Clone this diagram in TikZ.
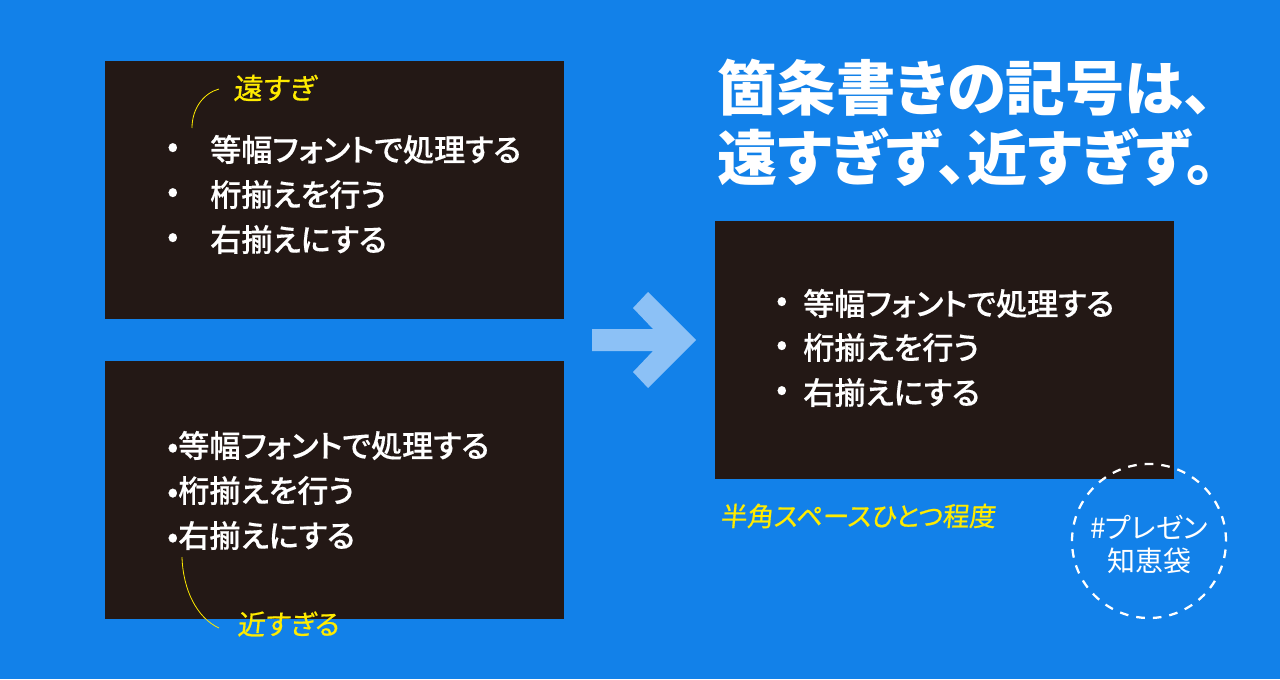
\documentclass[tikz,border=0pt]{standalone}
\usepackage{fontspec}
\setmainfont[RawFeature={+palt}]{Noto Sans CJK JP}
\newfontfamily\listfont[RawFeature={+palt},UprightFont={* Medium},FakeBold=0.35]{Noto Sans CJK JP}
\newfontfamily\handfont[RawFeature={+palt},FakeSlant=0.1,FakeBold=0.6]{Noto Sans CJK JP}
\definecolor{bluebg}{HTML}{1281E9}
\definecolor{panelc}{HTML}{231815}
\definecolor{arrowc}{HTML}{8CC1F6}
\definecolor{handc}{HTML}{FFEB00}
\newcommand{\fs}[1]{\fontsize{\dimexpr#1pt*3/4\relax}{\dimexpr#1pt*9/10\relax}\selectfont}
\tikzset{
  panelbox/.style={fill=panelc,draw=none,minimum width=344.25pt,minimum height=193.5pt,inner sep=0pt,anchor=north west},
  listline/.style={text=white,inner sep=0pt,anchor=west,font=\listfont\fs{31.1}},
  titleline/.style={text=white,inner sep=0pt,anchor=west,font=\bfseries},
  handnote/.style={text=handc,inner sep=0pt,anchor=west},
  tagline/.style={text=white,inner sep=0pt,anchor=center,font=\fs{28}},
  leader/.style={draw=handc,line width=0.6pt},
  tagring/.style={draw=white,line width=1.7pt,dash pattern=on 6.5pt off 6pt,circle,minimum size=115.5pt,inner sep=0pt}
}
\begin{document}
\begin{tikzpicture}[x=0.75pt,y=-0.75pt]
\fill[bluebg] (0,0) rectangle (1280,679);
\useasboundingbox (0,0) rectangle (1280,679);
\node[panelbox] (p1) at (105,61) {};
\node[panelbox] (p2) at (105,361) {};
\node[panelbox] (p3) at (715,221) {};
\fill[arrowc] (592,329) -- (653,329) -- (633,308) -- (648,292) -- (696,340) -- (648,388) -- (633,372) -- (653,351) -- (592,351) -- cycle;
\node[titleline,font=\fs{59.5}\bfseries] (t1) at (717,87.5) {箇条書きの記号は、};
\node[titleline,font=\fs{60}\bfseries] (t2) at (717,157) {遠すぎず、近すぎず。};
\node[listline] (a0) at (167,150) {•};
\node[listline] (a1) at (210,149.5) {等幅フォントで処理する};
\node[listline] (b0) at (167,195) {•};
\node[listline] (b1) at (210,194.5) {桁揃えを行う};
\node[listline] (c0) at (167,240) {•};
\node[listline] (c1) at (210,239.5) {右揃えにする};
\node[listline] (d1) at (167,445.5) {•等幅フォントで処理する};
\node[listline] (e1) at (167,490.5) {•桁揃えを行う};
\node[listline] (f1) at (167,535.5) {•右揃えにする};
\node[listline] (g0) at (776,304) {•};
\node[listline] (g1) at (803,303.5) {等幅フォントで処理する};
\node[listline] (h0) at (776,348) {•};
\node[listline] (h1) at (803,347.5) {桁揃えを行う};
\node[listline] (i0) at (776,393) {•};
\node[listline] (i1) at (803,392.5) {右揃えにする};
\node[handnote,font=\handfont\fs{29}] (n1) at (233,88) {遠すぎ};
\node[handnote,font=\handfont\fs{27.5}] (n2) at (237,624) {近すぎる};
\node[handnote,font=\handfont\fs{26.5}] (n3) at (720,516) {半角スペースひとつ程度};
\coordinate (s1) at (192,128);
\coordinate (e1c) at (219,89);
\coordinate (s2) at (182,557);
\coordinate (e2c) at (219,628);
\draw[leader] (s1) .. controls (192,108) and (204,93) .. (e1c);
\draw[leader] (s2) .. controls (183,590) and (197,618) .. (e2c);
\node[tagring] (ring) at (1149,541) {};
\node[tagline] (r1) at (1149,527) {\#プレゼン};
\node[tagline] (r2) at (1149,561) {知恵袋};
\end{tikzpicture}
\end{document}
